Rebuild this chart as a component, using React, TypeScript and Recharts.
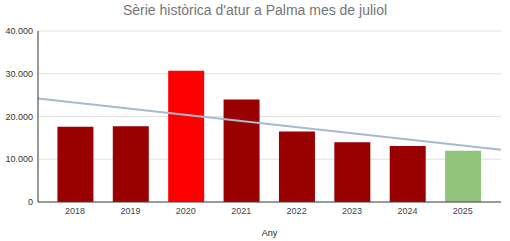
import { ComposedChart, Bar, Cell, XAxis, YAxis, CartesianGrid, ReferenceLine } from "recharts";

const years = [2018, 2019, 2020, 2021, 2022, 2023, 2024, 2025];
const unemployed = [17600, 17700, 30700, 24000, 16500, 14000, 13100, 12000];
const barColors = ["#990000", "#990000", "#ff0000", "#990000", "#990000", "#990000", "#990000", "#93c47d"];
const yTicks = [0, 10000, 20000, 30000, 40000];

// trend line at the two edges of the plot
const trendYears = [2017.33, 2025.69];
const trendValues = [24200, 12200];

const FONT = "'Liberation Sans', Arial, sans-serif";

/** 40000 -> "40.000" */
function fmtThousands(v: number): string {
  return String(v).replace(/\B(?=(\d{3})+(?!\d))/g, ".");
}

export default function App() {
  const data = years.map((year, i) => ({ year, value: unemployed[i] }));

  return (
    <div style={{ position: "absolute", left: 0, top: 0, width: 510, height: 241, background: "#fff", fontFamily: FONT }}>
      <div
        style={{
          position: "absolute",
          top: 2,
          left: 0,
          width: 510,
          textAlign: "center",
          fontSize: 14,
          color: "#757575",
          lineHeight: "16px",
        }}
      >
        Sèrie històrica d'atur a Palma mes de juliol
      </div>
      <ComposedChart width={510} height={241} data={data} margin={{ top: 31, right: 9, bottom: 0, left: 0 }}>
        <CartesianGrid vertical={false} stroke="#e2e2e2" />
        <XAxis
          type="number"
          dataKey="year"
          domain={[trendYears[0], trendYears[1]]}
          ticks={years}
          height={39}
          tickSize={0}
          tickMargin={6}
          stroke="#444"
          tick={{ fill: "#444", fontSize: 9, fontFamily: FONT }}
          label={{ value: "Any", position: "insideBottom", offset: 5, fill: "#222", fontSize: 9, fontFamily: FONT }}
        />
        <YAxis
          domain={[0, 40000]}
          ticks={yTicks}
          width={38}
          tickSize={0}
          tickMargin={5}
          stroke="#333"
          tickFormatter={fmtThousands}
          tick={{ fill: "#333", fontSize: 9, fontFamily: FONT }}
        />
        <Bar dataKey="value" barSize={36} isAnimationActive={false}>
          {data.map((d, i) => (
            <Cell key={d.year} fill={barColors[i]} />
          ))}
        </Bar>
        <ReferenceLine
          segment={[
            { x: trendYears[0], y: trendValues[0] },
            { x: trendYears[1], y: trendValues[1] },
          ]}
          stroke="#a8bacd"
          strokeWidth={2}
          ifOverflow="visible"
        />
      </ComposedChart>
    </div>
  );
}
